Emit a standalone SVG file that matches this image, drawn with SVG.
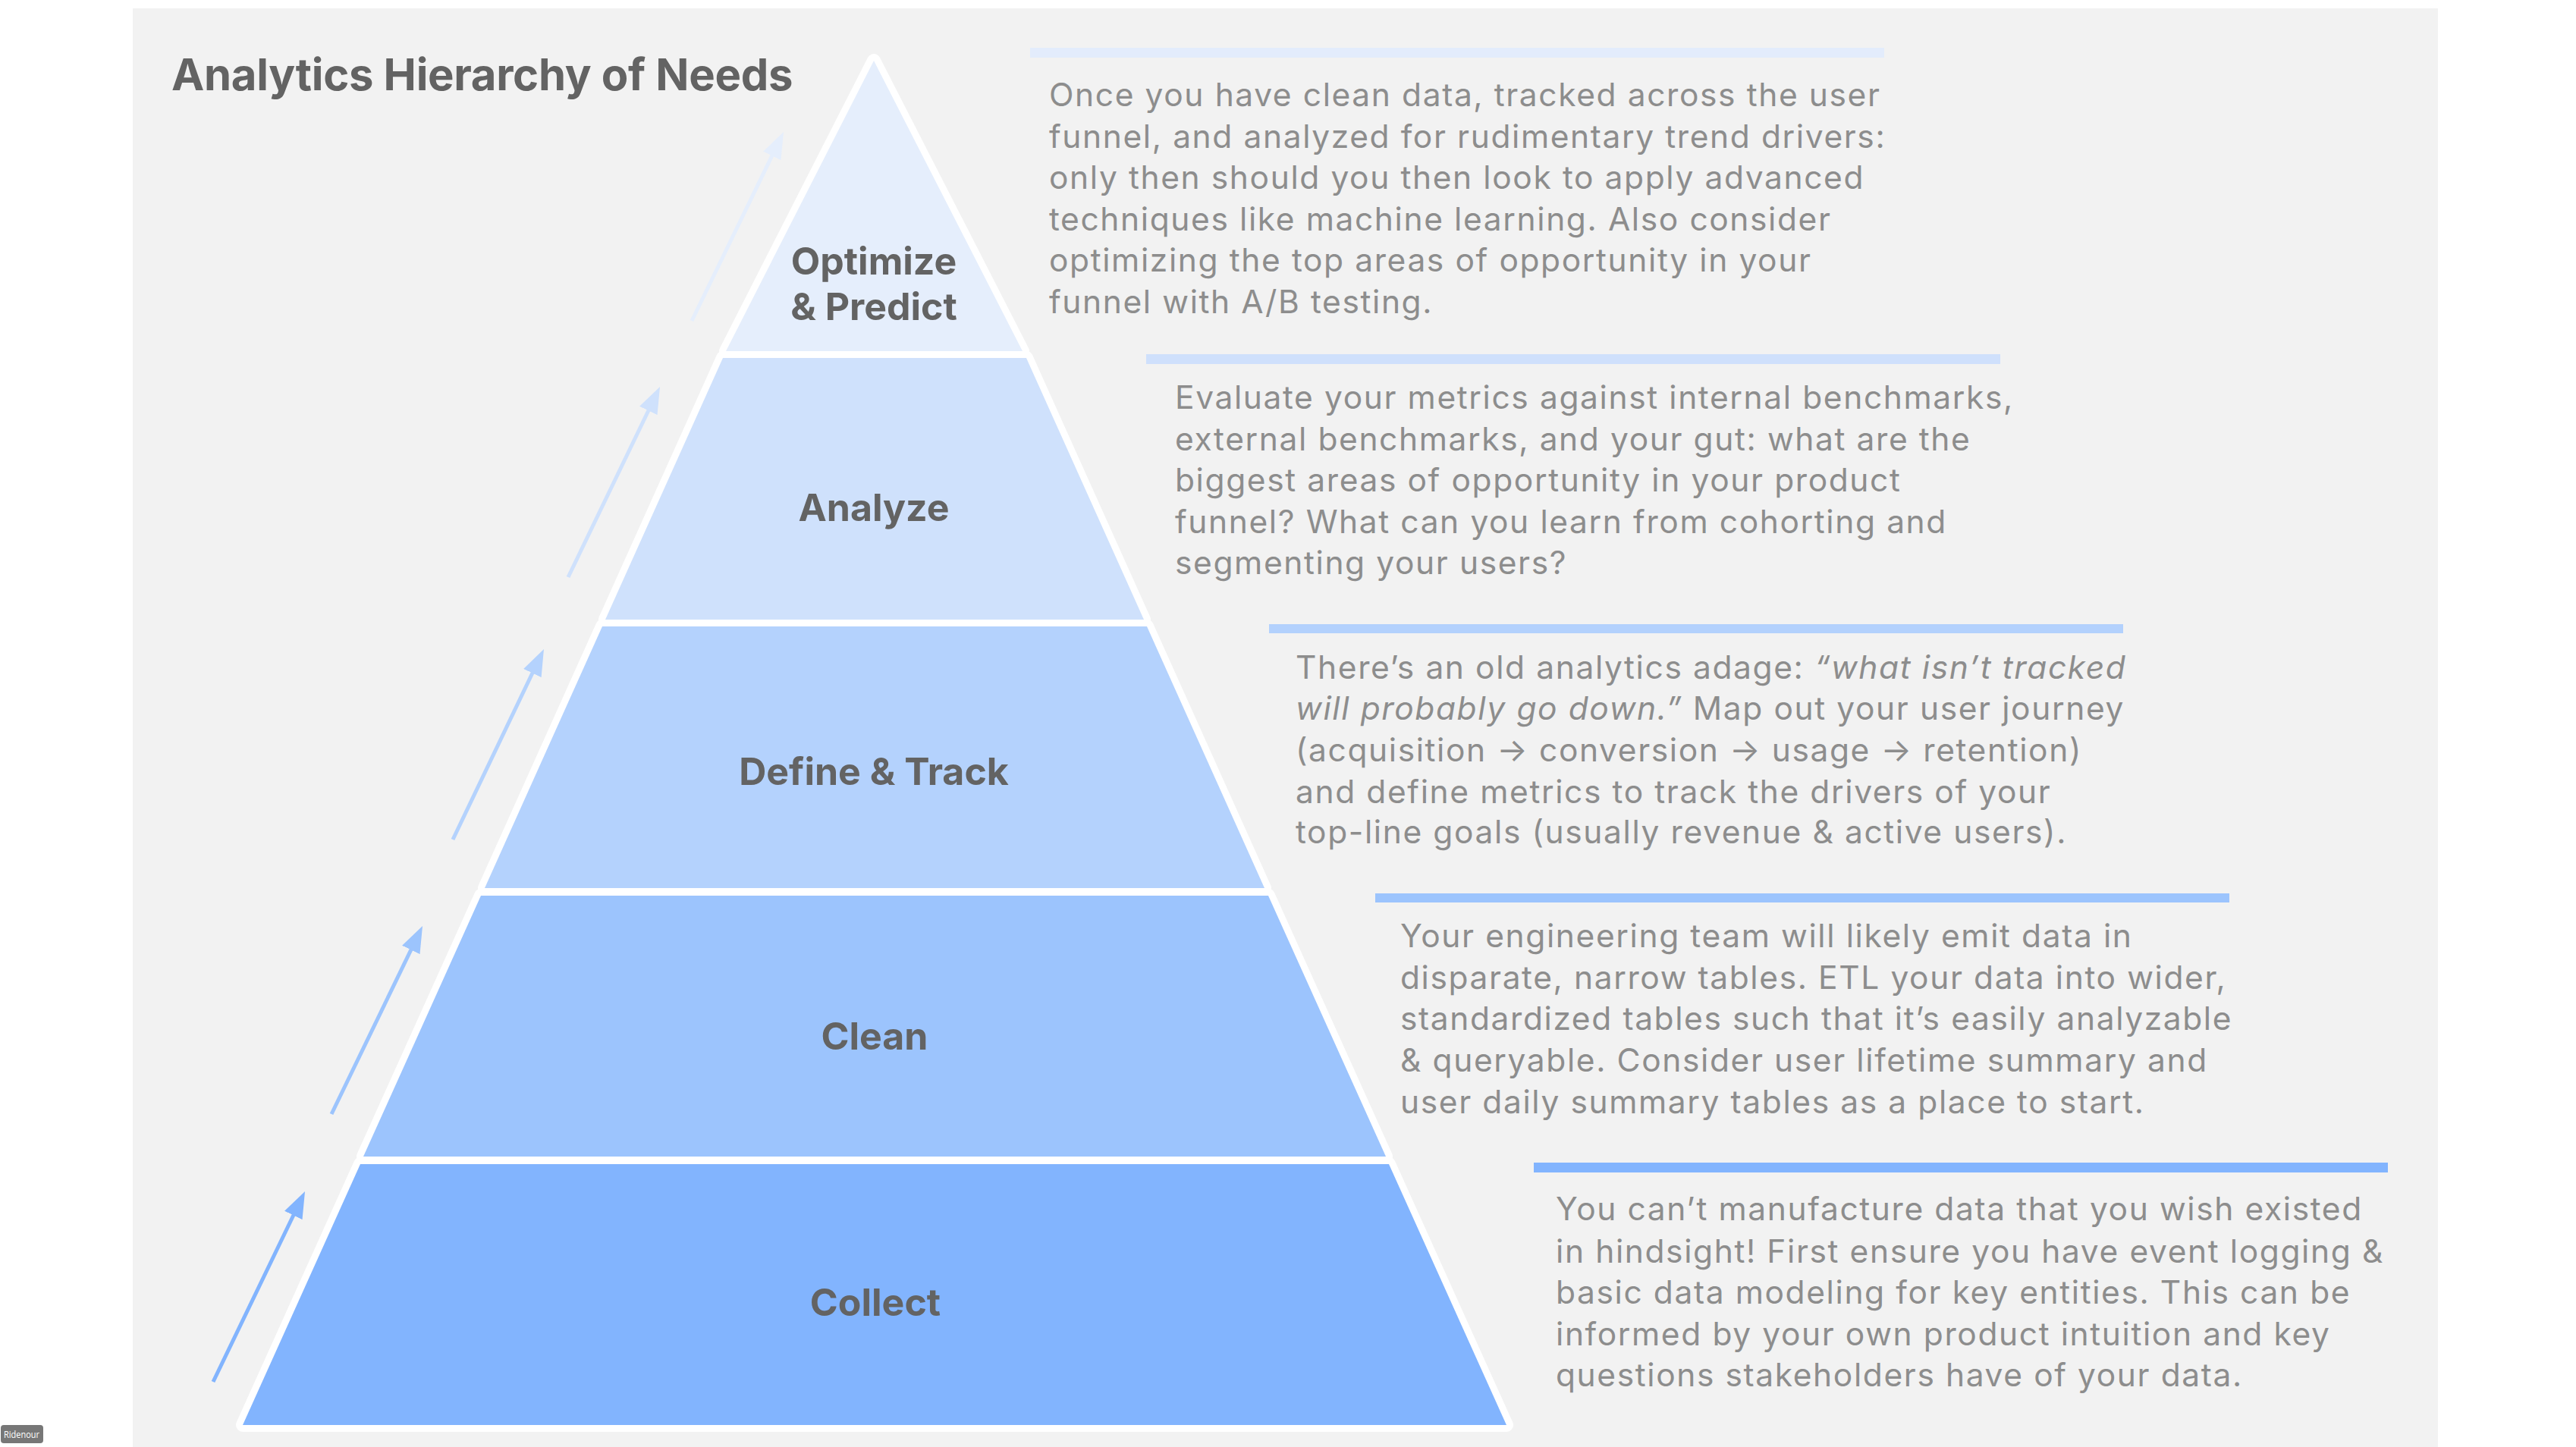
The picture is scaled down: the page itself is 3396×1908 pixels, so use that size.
<svg xmlns="http://www.w3.org/2000/svg" width="3396" height="1908" viewBox="0 0 3396 1908">
<defs>
<style>
.tier{stroke:#ffffff;stroke-width:18;stroke-linejoin:round;paint-order:stroke}
.lbl{font-family:Inter,"Liberation Sans",sans-serif;font-weight:700;font-size:50px;fill:#636363;text-anchor:middle}
.title{font-family:Inter,"Liberation Sans",sans-serif;font-weight:700;font-size:58px;fill:#636363;letter-spacing:-0.3px}
.body{font-family:Inter,"Liberation Sans",sans-serif;font-size:42.5px;fill:#8d8d8d;letter-spacing:1.6px}
.it{font-style:italic}
.arr{fill:none;stroke-width:5}
</style>
<marker id="h1" markerUnits="userSpaceOnUse" viewBox="0 0 35 26" markerWidth="35" markerHeight="26" refX="20" refY="13" orient="auto"><path d="M0,0 L35,13 L0,26 Z" fill="#82b4fe"/></marker>
<marker id="h2" markerUnits="userSpaceOnUse" viewBox="0 0 35 26" markerWidth="35" markerHeight="26" refX="20" refY="13" orient="auto"><path d="M0,0 L35,13 L0,26 Z" fill="#9cc4fd"/></marker>
<marker id="h3" markerUnits="userSpaceOnUse" viewBox="0 0 35 26" markerWidth="35" markerHeight="26" refX="20" refY="13" orient="auto"><path d="M0,0 L35,13 L0,26 Z" fill="#b4d2fd"/></marker>
<marker id="h4" markerUnits="userSpaceOnUse" viewBox="0 0 35 26" markerWidth="35" markerHeight="26" refX="20" refY="13" orient="auto"><path d="M0,0 L35,13 L0,26 Z" fill="#cfe1fc"/></marker>
<marker id="h5" markerUnits="userSpaceOnUse" viewBox="0 0 35 26" markerWidth="35" markerHeight="26" refX="20" refY="13" orient="auto"><path d="M0,0 L35,13 L0,26 Z" fill="#e5eefc"/></marker>
</defs>
<rect x="0" y="0" width="3396" height="1908" fill="#ffffff"/>
<rect x="175" y="11" width="3039" height="1897" fill="#f2f2f2"/>
<text class="title" x="226" y="119">Analytics Hierarchy of Needs</text>

<g id="tier-optimize">
<polygon class="tier" points="1152,80 1348,463 957,463" fill="#e5eefc"/>
<text class="lbl" x="1152" y="362">Optimize</text>
<text class="lbl" x="1152" y="422">&amp; Predict</text>
</g>
<g id="tier-analyze">
<polygon class="tier" points="953,472 1353,472 1508,817 798,817" fill="#cfe1fc"/>
<text class="lbl" x="1152" y="687">Analyze</text>
</g>
<g id="tier-define">
<polygon class="tier" points="794,826 1512,826 1667,1171 639,1171" fill="#b4d2fd"/>
<text class="lbl" x="1152" y="1035">Define &amp; Track</text>
</g>
<g id="tier-clean">
<polygon class="tier" points="634,1181 1672,1181 1827,1525 479,1525" fill="#9cc4fd"/>
<text class="lbl" x="1153" y="1384">Clean</text>
</g>
<g id="tier-collect">
<polygon class="tier" points="475,1535 1831,1535 1986,1879 320,1879" fill="#82b4fe"/>
<text class="lbl" x="1154" y="1735">Collect</text>
</g>

<g id="connectors">
<line class="arr" x1="281" y1="1822" x2="395.5" y2="1584.5" stroke="#82b4fe" marker-end="url(#h1)"/>
<line class="arr" x1="437" y1="1469" x2="550.5" y2="1234.5" stroke="#9cc4fd" marker-end="url(#h2)"/>
<line class="arr" x1="597" y1="1107" x2="710.5" y2="869.5" stroke="#b4d2fd" marker-end="url(#h3)"/>
<line class="arr" x1="749" y1="761" x2="863.5" y2="523.5" stroke="#cfe1fc" marker-end="url(#h4)"/>
<line class="arr" x1="912" y1="423" x2="1026.5" y2="187.5" stroke="#e5eefc" marker-end="url(#h5)"/>
</g>

<g id="desc-optimize">
<rect x="1358" y="63" width="1126" height="13" fill="#e3ecfc"/>
<text class="body" x="1383" y="140">Once you have clean data, tracked across the user</text>
<text class="body" x="1383" y="194.5">funnel, and analyzed for rudimentary trend drivers:</text>
<text class="body" x="1383" y="249">only then should you then look to apply advanced</text>
<text class="body" x="1383" y="303.5">techniques like machine learning. Also consider</text>
<text class="body" x="1383" y="358">optimizing the top areas of opportunity in your</text>
<text class="body" x="1383" y="412.5">funnel with A/B testing.</text>
</g>
<g id="desc-analyze">
<rect x="1511" y="467" width="1126" height="13" fill="#cfe0fc"/>
<text class="body" x="1549" y="539">Evaluate your metrics against internal benchmarks,</text>
<text class="body" x="1549" y="594">external benchmarks, and your gut: what are the</text>
<text class="body" x="1549" y="648">biggest areas of opportunity in your product</text>
<text class="body" x="1549" y="703">funnel? What can you learn from cohorting and</text>
<text class="body" x="1549" y="757">segmenting your users?</text>
</g>
<g id="desc-define">
<rect x="1673" y="823" width="1126" height="12" fill="#b3d1fd"/>
<text class="body" x="1708" y="895">There’s an old analytics adage: <tspan class="it">“what isn’t tracked</tspan></text>
<text class="body" x="1708" y="949"><tspan class="it">will probably go down.”</tspan> Map out your user journey</text>
<text class="body" x="1708" y="1004">(acquisition → conversion → usage → retention)</text>
<text class="body" x="1708" y="1059">and define metrics to track the drivers of your</text>
<text class="body" x="1708" y="1112">top-line goals (usually revenue &amp; active users).</text>
</g>
<g id="desc-clean">
<rect x="1813" y="1178" width="1126" height="12" fill="#9cc4fd"/>
<text class="body" x="1846" y="1249">Your engineering team will likely emit data in</text>
<text class="body" x="1846" y="1304">disparate, narrow tables. ETL your data into wider,</text>
<text class="body" x="1846" y="1358">standardized tables such that it’s easily analyzable</text>
<text class="body" x="1846" y="1413">&amp; queryable. Consider user lifetime summary and</text>
<text class="body" x="1846" y="1468">user daily summary tables as a place to start.</text>
</g>
<g id="desc-collect">
<rect x="2022" y="1533" width="1126" height="13" fill="#82b4fe"/>
<text class="body" x="2051" y="1609">You can’t manufacture data that you wish existed</text>
<text class="body" x="2051" y="1665">in hindsight! First ensure you have event logging &amp;</text>
<text class="body" x="2051" y="1719">basic data modeling for key entities. This can be</text>
<text class="body" x="2051" y="1774">informed by your own product intuition and key</text>
<text class="body" x="2051" y="1828">questions stakeholders have of your data.</text>
</g>

<g id="badge">
<rect x="1" y="1879" width="56" height="24" rx="4" fill="#777777"/>
<text x="5" y="1896" font-family="'Open Sans','Liberation Sans',sans-serif" font-size="12" fill="#ffffff" textLength="47" lengthAdjust="spacingAndGlyphs">Ridenour</text>
</g>
</svg>
